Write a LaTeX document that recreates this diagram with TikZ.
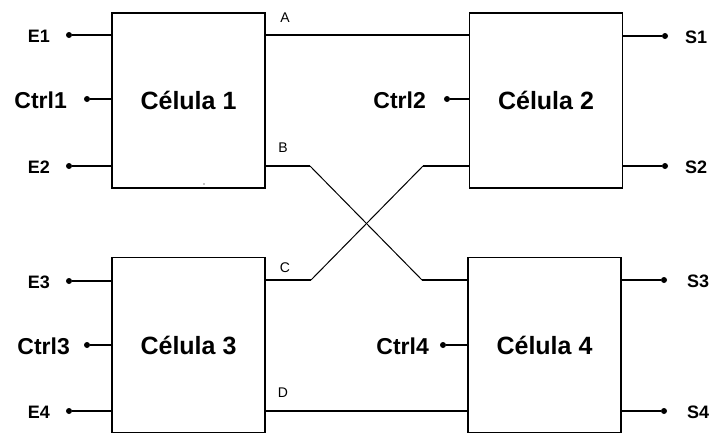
\documentclass[tikz,border=0pt]{standalone}
\usepackage{fontspec}
\setmainfont{Liberation Sans}
\begin{document}
\begin{tikzpicture}[x=1pt,y=-1pt,
  wire/.style={line width=1.6pt},
  xwire/.style={line width=1pt},
  cell/.style={draw,line width=1.6pt,minimum width=153pt,minimum height=175pt,
    inner sep=0pt,font=\bfseries\fontsize{25}{25}\selectfont},
  port/.style={circle,fill=black,inner sep=0pt,minimum size=6pt},
  io/.style={font=\bfseries\fontsize{18}{18}\selectfont,inner sep=0pt},
  ctl/.style={font=\bfseries\fontsize{23}{23}\selectfont,inner sep=0pt,anchor=east},
  sig/.style={font=\fontsize{14}{14}\selectfont,inner sep=0pt}]
\useasboundingbox (0,0) rectangle (717,434);

% the four cells
\node[cell] (c1) at (188.5,100.5) {Célula 1};
\node[cell] (c2) at (546,100.5) {Célula 2};
\node[cell] (c3) at (188.5,345) {Célula 3};
\node[cell] (c4) at (544.5,345) {Célula 4};

% input ports
\node[port] (e1) at (69,35) {};
\node[port] (k1) at (87,99) {};
\node[port] (e2) at (69,166) {};
\node[port] (e3) at (69,281) {};
\node[port] (k3) at (87,345) {};
\node[port] (e4) at (69,411) {};
\node[port] (k2) at (447,99) {};
\node[port] (k4) at (443,345) {};

% output ports
\node[port] (s1) at (665,36) {};
\node[port] (s2) at (665,166) {};
\node[port] (s3) at (664,280) {};
\node[port] (s4) at (664,411) {};

% port labels
\node[io,anchor=east] (le1) at (50,36) {E1};
\node[io,anchor=east] (le2) at (50,167) {E2};
\node[io,anchor=east] (le3) at (50,282) {E3};
\node[io,anchor=east] (le4) at (50,412) {E4};
\node[ctl] (lk1) at (67,100) {Ctrl1};
\node[ctl] (lk3) at (70,346) {Ctrl3};
\node[ctl] (lk2) at (426,100) {Ctrl2};
\node[ctl] (lk4) at (429,346) {Ctrl4};
\node[io,anchor=west] (ls1) at (685,37) {S1};
\node[io,anchor=west] (ls2) at (685,167) {S2};
\node[io,anchor=west] (ls3) at (687,281) {S3};
\node[io,anchor=west] (ls4) at (687,412) {S4};

% inputs into the cells
\draw[wire] (e1) -- (c1.west |- e1);
\draw[wire] (k1) -- (c1.west |- k1);
\draw[wire] (e2) -- (c1.west |- e2);
\draw[wire] (e3) -- (c3.west |- e3);
\draw[wire] (k3) -- (c3.west |- k3);
\draw[wire] (e4) -- (c3.west |- e4);
\draw[wire] (k2) -- (c2.west |- k2);
\draw[wire] (k4) -- (c4.west |- k4);

% outputs of the cells
\draw[wire] (c2.east |- s1) -- (s1);
\draw[wire] (c2.east |- s2) -- (s2);
\draw[wire] (c4.east |- s3) -- (s3);
\draw[wire] (c4.east |- s4) -- (s4);

% straight links A and D
\coordinate (a) at (265,35);
\coordinate (d) at (265,411);
\draw[wire] (c1.east |- a) -- (c2.west |- a);
\draw[wire] (c3.east |- d) -- (c4.west |- d);

% crossed links B and C
\coordinate (b1) at (310,166);
\coordinate (b2) at (422,280);
\coordinate (q1) at (311,280);
\coordinate (q2) at (423,166);
\draw[wire] (c1.east |- b1) -- (b1);
\draw[xwire] (b1) -- (b2);
\draw[wire] (b2) -- (c4.west |- b2);
\draw[wire] (c3.east |- q1) -- (q1);
\draw[xwire] (q1) -- (q2);
\draw[wire] (q2) -- (c2.west |- q2);

% link names
\node[sig] (la) at (285,18) {A};
\node[sig] (lb) at (283,148) {B};
\node[sig] (lc) at (285,268) {C};
\node[sig] (ld) at (283,393) {D};

% small speck inside cell 1
\fill (204,184) circle (0.7);
\end{tikzpicture}
\end{document}
